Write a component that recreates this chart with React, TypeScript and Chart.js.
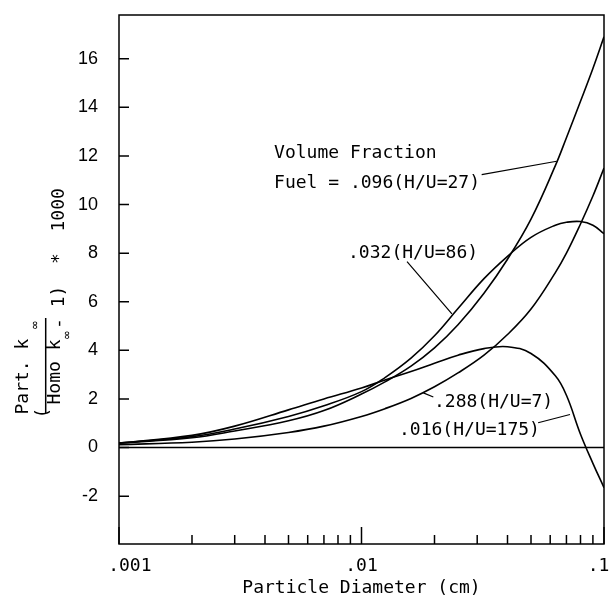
import React, { useEffect, useRef } from "react";
import { Chart, registerables } from "chart.js";

Chart.register(...registerables);

// ---- data ----
const diameters = [0.001, 0.002, 0.003, 0.005, 0.007, 0.01, 0.0125, 0.016, 0.02, 0.025, 0.032, 0.04, 0.05, 0.063, 0.07, 0.08, 0.09, 0.1];
const fuel096 = [0.18, 0.4, 0.68, 1.1, 1.52, 2.2, 2.7, 3.35, 4.1, 5.05, 6.35, 7.75, 9.4, 11.6, 12.75, 14.25, 15.6, 16.9];
const fuel032 = [0.18, 0.45, 0.76, 1.28, 1.72, 2.3, 2.88, 3.68, 4.6, 5.72, 6.95, 7.87, 8.65, 9.15, 9.27, 9.3, 9.15, 8.8];
const fuel016 = [0.18, 0.5, 0.88, 1.55, 2.0, 2.45, 2.78, 3.13, 3.47, 3.8, 4.07, 4.15, 3.87, 2.95, 2.15, 0.55, -0.65, -1.65];
const fuel288 = [0.12, 0.22, 0.35, 0.62, 0.88, 1.28, 1.6, 2.02, 2.5, 3.07, 3.8, 4.65, 5.7, 7.2, 8.0, 9.2, 10.35, 11.5];
const zeroLineX = [0.001, 0.1];
const zeroLineY = [0, 0];

const xTickValues = [0.001, 0.01, 0.1];
const xTickLabels = ["  .001", ".01", ".1 "];
const xMinorTicks = [0.002, 0.003, 0.004, 0.005, 0.006, 0.007, 0.008, 0.009, 0.02, 0.03, 0.04, 0.05, 0.06, 0.07, 0.08, 0.09];
const yTickValues = [-2, 0, 2, 4, 6, 8, 10, 12, 14, 16];
const yMin = -3.97;
const yMax = 17.8;

// annotations (data coordinates)
const annoTexts = ["Volume Fraction", "Fuel = .096(H/U=27)", ".032(H/U=86)", ".288(H/U=7)", ".016(H/U=175)"];
const annoX = [0.00436, 0.00436, 0.0088, 0.0199, 0.01428];
const annoY = [11.93, 10.66, 7.82, 1.65, 0.53];
// leader lines: [x1, y1, x2, y2]
const leaders = [
  [0.0313, 11.23, 0.0638, 11.78],
  [0.01541, 7.65, 0.0236, 5.5],
  [0.01978, 2.08, 0.01799, 2.25],
  [0.0535, 1.02, 0.0724, 1.36],
];

const MONO = '"DejaVu Sans Mono", monospace';

const toPts = (ys: number[]) => ys.map((y, i) => ({ x: diameters[i], y }));

const framePlugin = {
  id: "frameTicks",
  afterDraw(chart: any) {
    const { ctx, chartArea: a, scales } = chart;
    const xs = scales.x;
    const lmin = Math.log10(xs.min);
    const lmax = Math.log10(xs.max);
    const xpix = (v: number) => xs.getPixelForDecimal((Math.log10(v) - lmin) / (lmax - lmin));
    ctx.save();
    ctx.strokeStyle = "#000";
    ctx.lineWidth = 1.5;
    ctx.strokeRect(a.left, a.top, a.right - a.left, a.bottom - a.top);
    ctx.lineWidth = 1.5;
    ctx.beginPath();
    for (const v of yTickValues) {
      const p = scales.y.getPixelForValue(v);
      ctx.moveTo(a.left, p);
      ctx.lineTo(a.left + 10, p);
    }
    ctx.stroke();
    for (const v of xMinorTicks) {
      const p = xpix(v);
      ctx.beginPath();
      ctx.moveTo(p, a.bottom);
      ctx.lineTo(p, a.bottom - 9);
      ctx.stroke();
    }
    for (const v of xTickValues) {
      const p = xpix(v);
      ctx.beginPath();
      ctx.moveTo(p, a.bottom);
      ctx.lineTo(p, a.bottom - 17);
      ctx.stroke();
    }

    // annotations
    ctx.fillStyle = "#000";
    ctx.font = "18px " + MONO;
    ctx.textAlign = "left";
    ctx.textBaseline = "alphabetic";
    annoTexts.forEach((t, i) => {
      ctx.fillText(t, xpix(annoX[i]), scales.y.getPixelForValue(annoY[i]));
    });
    ctx.lineWidth = 1.2;
    ctx.beginPath();
    leaders.forEach(([x1, y1, x2, y2]) => {
      ctx.moveTo(xpix(x1), scales.y.getPixelForValue(y1));
      ctx.lineTo(xpix(x2), scales.y.getPixelForValue(y2));
    });
    ctx.stroke();

    // y-axis title (rotated fraction)
    ctx.translate(0, 420);
    ctx.rotate(-Math.PI / 2);
    ctx.font = "18px " + MONO;
    ctx.fillText("Part. k", 5.5, 28);
    ctx.fillText("Homo k", 15.5, 60);
    ctx.fillText("(", 1.5, 47.5);
    ctx.fillText("- 1)  *  1000", 91, 64);
    ctx.font = "13px " + MONO;
    ctx.fillText("\u221E", 91, 39);
    ctx.fillText("\u221E", 81, 71);
    ctx.lineWidth = 1.5;
    ctx.beginPath();
    ctx.moveTo(7, 45.7);
    ctx.lineTo(102, 45.7);
    ctx.stroke();
    ctx.restore();
  },
};

export default function App() {
  const ref = useRef<HTMLCanvasElement>(null);
  useEffect(() => {
    document.body.style.margin = "0";
    const line = (ys: number[]) => ({
      data: toPts(ys),
      borderColor: "#000",
      borderWidth: 1.6,
      pointRadius: 0,
      fill: false,
      showLine: true,
      tension: 0.4,
    });
    const chart = new Chart(ref.current!, {
      type: "scatter",
      data: {
        datasets: [
          { label: ".096(H/U=27)", ...line(fuel096) },
          { label: ".032(H/U=86)", ...line(fuel032) },
          { label: ".016(H/U=175)", ...line(fuel016) },
          { label: ".288(H/U=7)", ...line(fuel288) },
          {
            label: "zero",
            data: zeroLineX.map((x, i) => ({ x, y: zeroLineY[i] })),
            borderColor: "#000",
            borderWidth: 1.4,
            pointRadius: 0,
            showLine: true,
          },
        ],
      },
      options: {
        responsive: false,
        animation: false,
        layout: { padding: { left: 0, top: 15, right: 5, bottom: 0 } },
        plugins: { legend: { display: false }, tooltip: { enabled: false } },
        scales: {
          x: {
            type: "logarithmic",
            min: 0.001,
            max: 0.1,
            grid: { display: false },
            border: { display: false },
            afterBuildTicks: (s: any) => {
              s.ticks = xTickValues.map((v) => ({ value: v }));
            },
            afterFit: (s: any) => {
              s.height = 58;
              s.paddingLeft = 0;
              s.paddingRight = 0;
            },
            ticks: {
              autoSkip: false,
              maxRotation: 0,
              padding: 4,
              color: "#000",
              font: { family: MONO, size: 18 },
              callback: (v: any) => {
                const i = xTickValues.indexOf(Number(v));
                return i >= 0 ? xTickLabels[i] : "";
              },
            },
            title: {
              display: true,
              text: "Particle Diameter (cm)",
              color: "#000",
              font: { family: MONO, size: 18 },
              padding: { top: 0, bottom: 3 },
            },
          },
          y: {
            type: "linear",
            min: yMin,
            max: yMax,
            grid: { display: false },
            border: { display: false },
            afterBuildTicks: (s: any) => {
              s.ticks = yTickValues.map((v) => ({ value: v }));
            },
            afterFit: (s: any) => {
              s.width = 119;
              s.paddingTop = 0;
              s.paddingBottom = 0;
            },
            ticks: {
              padding: 13,
              color: "#000",
              font: { family: '"Liberation Sans", Arial, sans-serif', size: 18 },
              callback: (v: any) => String(v),
            },
          },
        },
      },
      plugins: [framePlugin],
    });
    return () => chart.destroy();
  }, []);
  return <canvas ref={ref} width={609} height={602} style={{ display: "block" }} />;
}
